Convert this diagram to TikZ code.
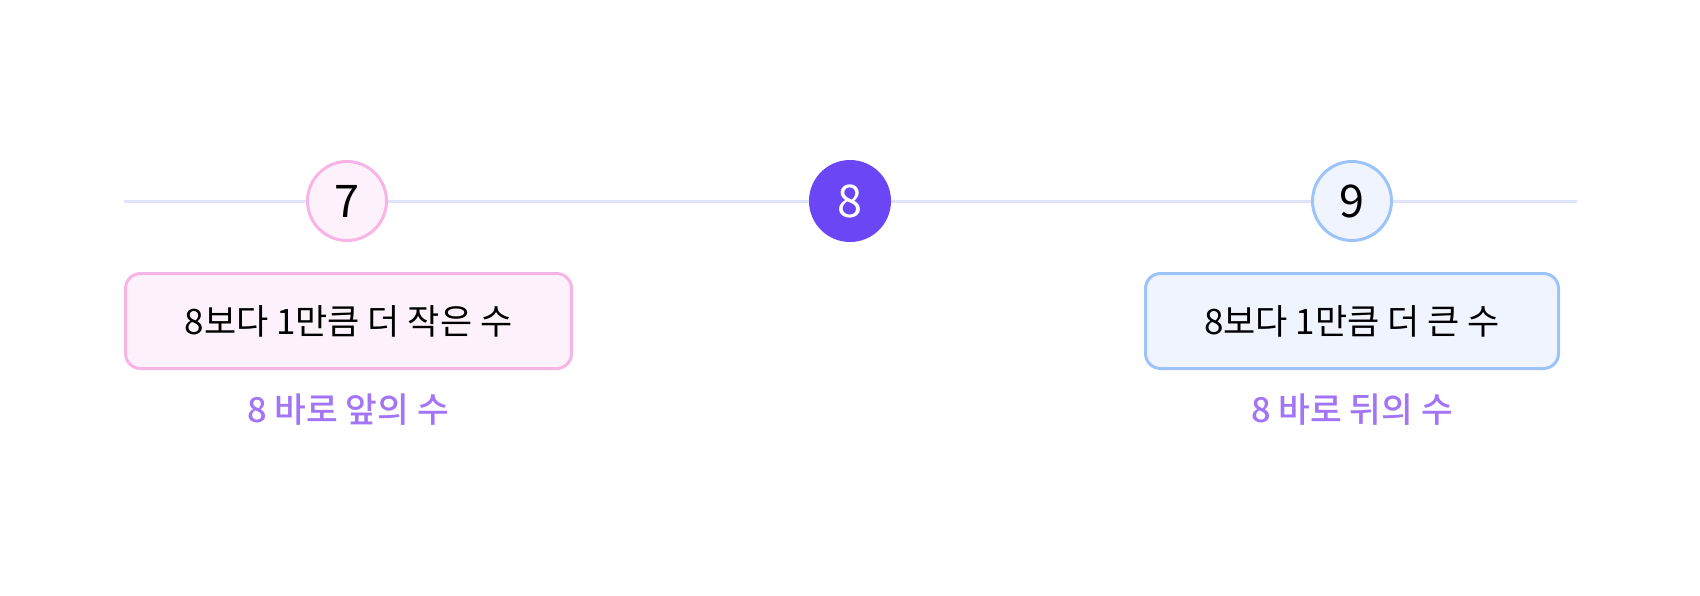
\documentclass[tikz,border=0pt]{standalone}
\usepackage{fontspec}
\setmainfont{Noto Sans CJK KR}
\newfontfamily\krmed{Noto Sans CJK KR Medium}
\definecolor{axis}{HTML}{E0E4F8}
\definecolor{pinkline}{HTML}{F9B4E6}
\definecolor{pinkfill}{HTML}{FDF2FB}
\definecolor{blueline}{HTML}{9CC3FA}
\definecolor{bluefill}{HTML}{F0F4FF}
\definecolor{mainpurple}{HTML}{6B46F5}
\definecolor{capcolor}{HTML}{A274F6}
\begin{document}
\begin{tikzpicture}[x=1pt,y=-1pt,
  numcircle/.style={circle, minimum size=79pt, inner sep=0pt, line width=3pt, font=\fontsize{45}{48}\selectfont},
  labelbox/.style={rounded corners=15pt, line width=3pt, minimum height=95pt, inner sep=0pt, font=\fontsize{35}{38}\selectfont},
  caption/.style={text=capcolor, font=\krmed\fontsize{34.5}{38}\selectfont, inner sep=0pt}
]
\useasboundingbox (0,0) rectangle (1700,595);
\coordinate (L) at (124,201);
\coordinate (R) at (1577,201);
\draw[axis, line width=3pt] (L) -- (R);
\node[numcircle, draw=pinkline, fill=pinkfill] (n7) at (347,201) {7};
\node[numcircle, draw=mainpurple, fill=mainpurple, text=white] (n8) at (850,201) {8};
\node[numcircle, draw=blueline, fill=bluefill] (n9) at (1352,201) {9};
\node[labelbox, draw=pinkline, fill=pinkfill, minimum width=446pt] (b7) at (348.5,321) {8보다 1만큼 더 작은 수};
\node[labelbox, draw=blueline, fill=bluefill, minimum width=413pt] (b9) at (1352,321) {8보다 1만큼 더 큰 수};
\node[caption] (c7) at (348,410) {8 바로 앞의 수};
\node[caption] (c9) at (1352,410) {8 바로 뒤의 수};
\end{tikzpicture}
\end{document}
